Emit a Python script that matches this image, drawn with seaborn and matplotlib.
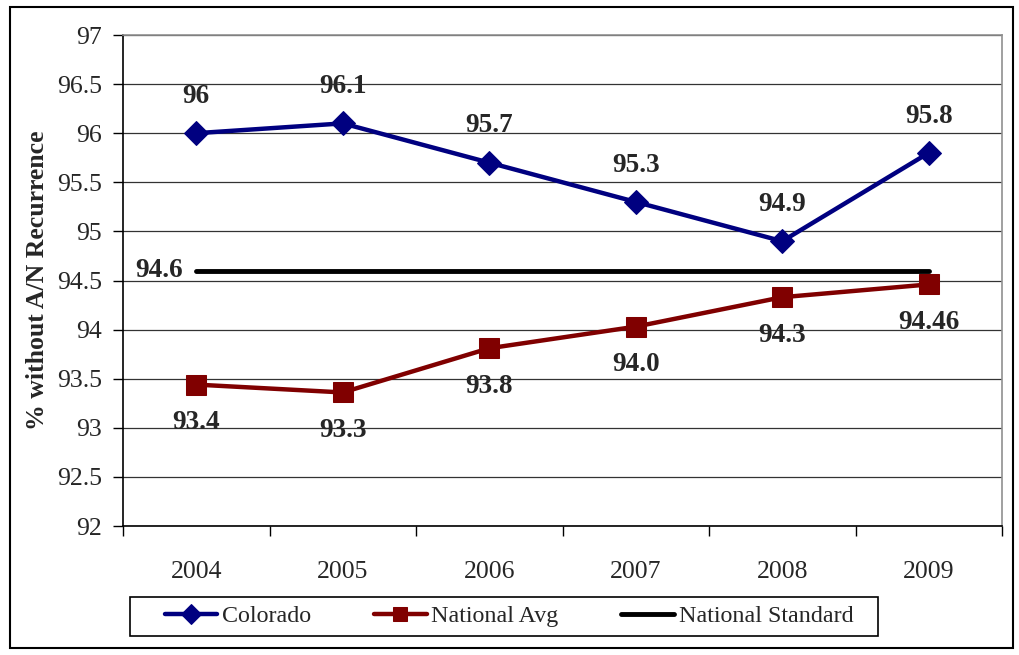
import matplotlib
matplotlib.use("Agg")
import matplotlib.pyplot as plt
import seaborn as sns
import pandas as pd
from matplotlib.patches import Rectangle
from matplotlib.ticker import FixedLocator

years = ["2004", "2005", "2006", "2007", "2008", "2009"]
colorado = [96.0, 96.1, 95.7, 95.3, 94.9, 95.8]
colorado_labels = ["96", "96.1", "95.7", "95.3", "94.9", "95.8"]
national_avg = [93.44, 93.36, 93.81, 94.03, 94.33, 94.46]
national_avg_labels = ["93.4", "93.3", "93.8", "94.0", "94.3", "94.46"]
national_standard = [94.6] * 6
standard_label = "94.6"
y_label = "% without A/N Recurrence"
y_ticks = [92, 92.5, 93, 93.5, 94, 94.5, 95, 95.5, 96, 96.5, 97]
y_tick_labels = ["92", "92.5", "93", "93.5", "94", "94.5", "95", "95.5", "96", "96.5", "97"]

sns.set_theme(style="white")
plt.rcParams["font.family"] = ["Liberation Serif", "DejaVu Serif"]

df = pd.DataFrame({"year": years, "Colorado": colorado,
                   "National Avg": national_avg,
                   "National Standard": national_standard})

fig = plt.figure(figsize=(10.19, 6.55), dpi=100)
ax = fig.add_axes([123/1019, 1-526/655, (1002-123)/1019, (526-35)/655])

sns.lineplot(data=df, x="year", y="Colorado", ax=ax, color="#000080", lw=3.2,
             marker="D", markersize=12, markeredgecolor="#000080", label="Colorado")
sns.lineplot(data=df, x="year", y="National Avg", ax=ax, color="#800000", lw=3.2,
             marker="s", markersize=14, markeredgecolor="#800000", label="National Avg")
sns.lineplot(data=df, x="year", y="National Standard", ax=ax, color="black", lw=3.5,
             label="National Standard")

fs = 18.5
lfs = 19.5
for i, (v, t) in enumerate(zip(colorado, colorado_labels)):
    ax.annotate(t, (i, v), xytext=(0, 26.5), textcoords="offset points",
                ha="center", va="center", fontsize=lfs, fontweight="bold")
for i, (v, t) in enumerate(zip(national_avg, national_avg_labels)):
    ax.annotate(t, (i, v), xytext=(0, -27.5), textcoords="offset points",
                ha="center", va="center", fontsize=lfs, fontweight="bold")
ax.annotate(standard_label, (0, national_standard[0]), xytext=(-27, 0),
            textcoords="offset points", ha="center", va="center",
            fontsize=lfs, fontweight="bold")

ax.set_xlim(-0.5, 5.5)
ax.set_ylim(92, 97)
ax.set_yticks(y_ticks)
ax.set_yticklabels(y_tick_labels)
ax.set_xticks(range(6))
ax.set_xticklabels(years)
ax.xaxis.set_minor_locator(FixedLocator([k - 0.5 for k in range(7)]))
ax.tick_params(axis="x", which="major", length=0, pad=25, labelsize=fs)
ax.tick_params(axis="x", which="minor", length=7, width=1, color="black", direction="out", bottom=True)
ax.tick_params(axis="y", length=7, width=1, color="black", direction="out", left=True,
               pad=8, labelsize=fs)
ax.grid(axis="y", color="#333333", lw=0.9)
ax.grid(axis="x", visible=False)
ax.set_xlabel("")
ax.set_ylabel(y_label, fontsize=18.5, fontweight="bold", labelpad=6)

for s in ["left", "bottom"]:
    ax.spines[s].set_color("black")
    ax.spines[s].set_linewidth(1.2)
for s in ["top", "right"]:
    ax.spines[s].set_color("#909090")
    ax.spines[s].set_linewidth(1.2)
    ax.spines[s].set_visible(True)

leg = ax.legend(loc="center", bbox_to_anchor=(509/1019, 1-616.5/655),
                bbox_transform=fig.transFigure, ncol=3, fontsize=17.3,
                frameon=False, handlelength=2.2, columnspacing=2.6,
                handletextpad=0.2)
for h in leg.legend_handles:
    h.set_markersize(10)

# legend box
fig.patches.append(Rectangle((130/1019, 1-636/655), (878-130)/1019, (636-597)/655,
                             transform=fig.transFigure, fill=False,
                             edgecolor="black", lw=1.2))
# outer chart border
fig.patches.append(Rectangle((10/1019, 1-648/655), (1013-10)/1019, (648-7)/655,
                             transform=fig.transFigure, fill=False,
                             edgecolor="black", lw=1.5))

fig.savefig("out.png", dpi=100)
